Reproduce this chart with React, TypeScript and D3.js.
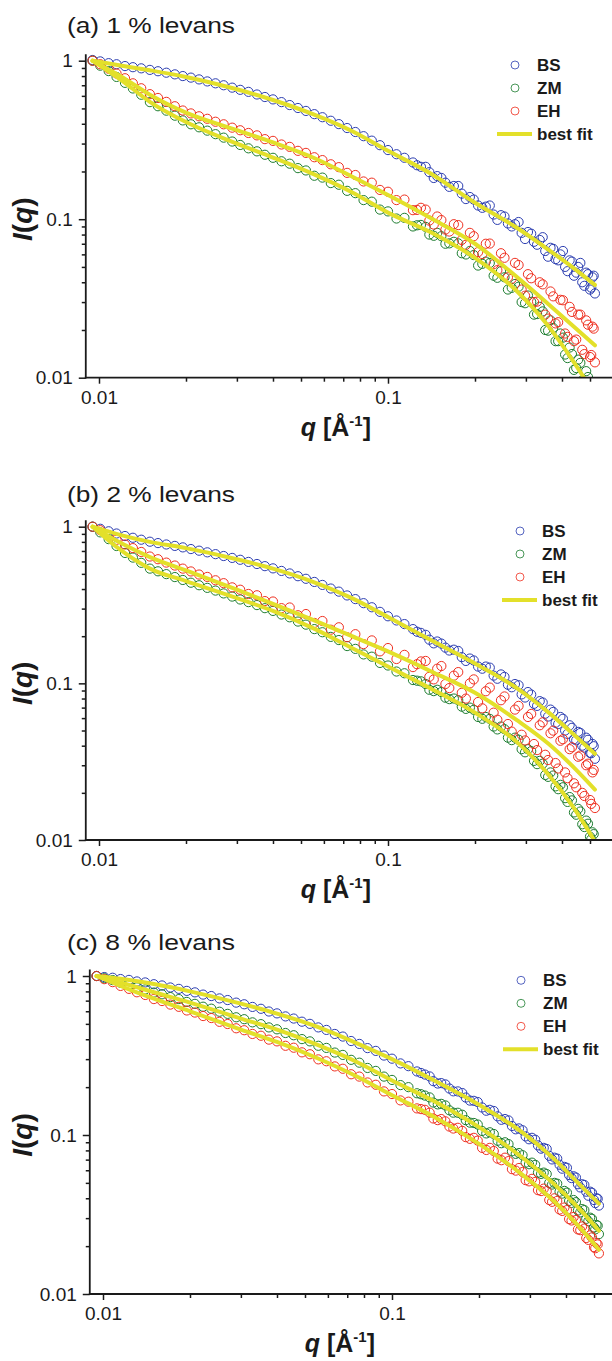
import React, { useEffect, useRef } from 'react';
import * as d3 from 'd3';

// q grid shared by all measured curves (Å^-1)
const Q = [
  0.0095, 0.0101, 0.0108, 0.0115, 0.0123, 0.0131, 0.014, 0.015, 0.016, 0.0171,
  0.0183, 0.0195, 0.0208, 0.0222, 0.0237, 0.0253, 0.027, 0.0289, 0.0308, 0.0329,
  0.0352, 0.0375, 0.04, 0.0428, 0.0457, 0.0488, 0.052, 0.0556, 0.0593, 0.0634,
  0.0676, 0.0722, 0.0771, 0.0823, 0.0879, 0.0938, 0.1, 0.107, 0.114, 0.122,
  0.13, 0.139, 0.148, 0.158, 0.169, 0.18, 0.192, 0.205, 0.218, 0.232,
  0.246, 0.26, 0.275, 0.29, 0.305, 0.32, 0.335, 0.35, 0.365, 0.38,
  0.395, 0.41, 0.425, 0.44, 0.455, 0.47, 0.485, 0.5, 0.51, 0.52,
];
// extra points of the dense high-q part
const Q_HI = [
  0.126, 0.135, 0.144, 0.153, 0.163, 0.175, 0.186, 0.198, 0.212, 0.225,
  0.239, 0.253, 0.268, 0.283, 0.298, 0.313, 0.328, 0.343, 0.358, 0.373,
  0.388, 0.403, 0.418, 0.433, 0.448, 0.463, 0.478, 0.492, 0.505, 0.515,
];
// q grid of the fitted curves
const Q_FIT = [0.0095, 0.012, 0.015, 0.02, 0.03, 0.04, 0.055, 0.075, 0.1, 0.14, 0.2, 0.28, 0.36, 0.44, 0.52];

// (a) 1 % levans
const A_BS = [
  1.01, 0.99, 0.965, 0.95, 0.925, 0.91, 0.895, 0.875, 0.858, 0.84,
  0.82, 0.8, 0.782, 0.762, 0.74, 0.72, 0.7, 0.676, 0.655, 0.636,
  0.612, 0.59, 0.57, 0.548, 0.525, 0.503, 0.482, 0.46, 0.44, 0.418,
  0.398, 0.376, 0.355, 0.334, 0.313, 0.293, 0.273, 0.257, 0.244, 0.228,
  0.214, 0.198, 0.187, 0.17, 0.162, 0.145, 0.138, 0.122, 0.12, 0.107,
  0.106, 0.094, 0.093, 0.082, 0.083, 0.072, 0.074, 0.063, 0.066, 0.056,
  0.06, 0.05, 0.055, 0.044, 0.05, 0.04, 0.046, 0.036, 0.043, 0.034,
];
const A_ZM = [
  1.0, 0.93, 0.86, 0.79, 0.725, 0.668, 0.61, 0.548, 0.516, 0.484,
  0.45, 0.42, 0.397, 0.38, 0.362, 0.344, 0.327, 0.309, 0.294, 0.28,
  0.268, 0.255, 0.244, 0.232, 0.224, 0.21, 0.203, 0.188, 0.183, 0.169,
  0.165, 0.151, 0.146, 0.132, 0.129, 0.115, 0.112, 0.101, 0.102, 0.09,
  0.092, 0.08, 0.082, 0.07, 0.072, 0.061, 0.063, 0.051, 0.054, 0.044,
  0.047, 0.036, 0.039, 0.03, 0.033, 0.025, 0.028, 0.02, 0.023, 0.017,
  0.019, 0.014, 0.0155, 0.0112, 0.013, 0.0096, 0.011, 0.0082, 0.0094, 0.0072,
];
const A_EH = [
  1.0, 0.95, 0.89, 0.83, 0.775, 0.72, 0.67, 0.615, 0.582, 0.55,
  0.516, 0.485, 0.465, 0.446, 0.43, 0.412, 0.397, 0.378, 0.364, 0.35,
  0.338, 0.32, 0.312, 0.296, 0.286, 0.27, 0.262, 0.246, 0.236, 0.222,
  0.213, 0.196, 0.19, 0.173, 0.17, 0.153, 0.149, 0.132, 0.133, 0.114,
  0.118, 0.098, 0.104, 0.086, 0.093, 0.074, 0.082, 0.062, 0.07, 0.052,
  0.061, 0.043, 0.053, 0.036, 0.045, 0.03, 0.04, 0.025, 0.035, 0.022,
  0.031, 0.019, 0.028, 0.017, 0.025, 0.015, 0.023, 0.0135, 0.021, 0.0125,
];
const A_BS_HI = [
  0.219, 0.214, 0.182, 0.182, 0.16, 0.162, 0.134, 0.133, 0.118, 0.122,
  0.099, 0.104, 0.09, 0.096, 0.075, 0.081, 0.069, 0.077, 0.058, 0.065,
  0.055, 0.063, 0.047, 0.054, 0.046, 0.053, 0.038, 0.045, 0.037, 0.044,
];
const A_ZM_HI = [
  0.0915, 0.0894, 0.0786, 0.0781, 0.0704, 0.0704, 0.0599, 0.0594, 0.0523, 0.0529,
  0.0427, 0.043, 0.0369, 0.0375, 0.0295, 0.0301, 0.0252, 0.0262, 0.0198, 0.0206,
  0.017, 0.0179, 0.0133, 0.0141, 0.0115, 0.0124, 0.0092, 0.0101, 0.0081, 0.0088,
];
const A_EH_HI = [
  0.1145, 0.115, 0.0925, 0.0987, 0.0836, 0.0918, 0.0689, 0.0781, 0.0603, 0.0702,
  0.0477, 0.0571, 0.0421, 0.0514, 0.0329, 0.0424, 0.0302, 0.0388, 0.0236, 0.0326,
  0.0224, 0.0308, 0.0181, 0.026, 0.0174, 0.025, 0.0141, 0.0216, 0.0139, 0.0204,
];
const A_BS_FIT = [1.0, 0.93, 0.87, 0.79, 0.66, 0.565, 0.46, 0.36, 0.27, 0.195, 0.127, 0.088, 0.064, 0.049, 0.0385];
const A_ZM_FIT = [1.0, 0.75, 0.55, 0.41, 0.3, 0.245, 0.193, 0.148, 0.11, 0.083, 0.057, 0.035, 0.021, 0.0125, 0.0078];
const A_EH_FIT = [1.0, 0.79, 0.61, 0.47, 0.365, 0.305, 0.245, 0.186, 0.142, 0.102, 0.07, 0.043, 0.029, 0.021, 0.016];

// (b) 2 % levans
const B_BS = [
  1.0, 0.97, 0.935, 0.905, 0.872, 0.85, 0.826, 0.802, 0.786, 0.77,
  0.754, 0.738, 0.72, 0.703, 0.686, 0.668, 0.65, 0.632, 0.615, 0.596,
  0.578, 0.56, 0.542, 0.522, 0.503, 0.483, 0.465, 0.444, 0.425, 0.403,
  0.385, 0.364, 0.345, 0.325, 0.306, 0.286, 0.268, 0.252, 0.239, 0.222,
  0.21, 0.19, 0.185, 0.169, 0.164, 0.147, 0.144, 0.128, 0.128, 0.112,
  0.114, 0.098, 0.099, 0.085, 0.088, 0.074, 0.077, 0.064, 0.068, 0.056,
  0.061, 0.05, 0.054, 0.044, 0.049, 0.04, 0.045, 0.036, 0.041, 0.033,
];
const B_ZM = [
  1.0, 0.92, 0.833, 0.753, 0.68, 0.635, 0.588, 0.54, 0.519, 0.498,
  0.477, 0.457, 0.439, 0.423, 0.407, 0.391, 0.375, 0.358, 0.343, 0.33,
  0.316, 0.302, 0.29, 0.275, 0.264, 0.248, 0.237, 0.222, 0.212, 0.198,
  0.189, 0.173, 0.166, 0.153, 0.148, 0.135, 0.13, 0.119, 0.116, 0.105,
  0.103, 0.091, 0.091, 0.081, 0.08, 0.071, 0.07, 0.061, 0.061, 0.053,
  0.053, 0.045, 0.045, 0.038, 0.038, 0.032, 0.032, 0.026, 0.027, 0.022,
  0.0225, 0.0185, 0.0188, 0.015, 0.0158, 0.0126, 0.0133, 0.0105, 0.0112, 0.0092,
];
const B_EH = [
  1.0, 0.95, 0.885, 0.825, 0.77, 0.73, 0.69, 0.645, 0.62, 0.59,
  0.565, 0.54, 0.518, 0.495, 0.478, 0.455, 0.436, 0.41, 0.396, 0.372,
  0.365, 0.335, 0.333, 0.302, 0.305, 0.272, 0.277, 0.243, 0.25, 0.22,
  0.228, 0.197, 0.206, 0.178, 0.188, 0.16, 0.168, 0.143, 0.152, 0.127,
  0.138, 0.11, 0.124, 0.099, 0.112, 0.087, 0.1, 0.076, 0.089, 0.065,
  0.078, 0.055, 0.068, 0.047, 0.061, 0.041, 0.054, 0.035, 0.048, 0.031,
  0.043, 0.027, 0.038, 0.023, 0.034, 0.02, 0.03, 0.018, 0.027, 0.016,
];
const B_BS_HI = [
  0.2135, 0.204, 0.18, 0.1795, 0.162, 0.161, 0.139, 0.14, 0.124, 0.126,
  0.107, 0.11, 0.0944, 0.0973, 0.0812, 0.0848, 0.0718, 0.0755, 0.0614, 0.0657,
  0.055, 0.0594, 0.0476, 0.052, 0.0433, 0.0482, 0.0389, 0.0436, 0.0358, 0.0397,
];
const B_ZM_HI = [
  0.104, 0.099, 0.0892, 0.088, 0.0793, 0.0781, 0.0687, 0.0678, 0.0594, 0.0593,
  0.0508, 0.051, 0.0434, 0.0437, 0.0363, 0.0369, 0.0305, 0.0307, 0.0253, 0.0258,
  0.0211, 0.0217, 0.0175, 0.0179, 0.0145, 0.0152, 0.0121, 0.0127, 0.0101, 0.0109,
];
const B_EH_HI = [
  0.1325, 0.139, 0.106, 0.129, 0.0933, 0.118, 0.0799, 0.106, 0.0693, 0.094,
  0.0586, 0.0825, 0.0492, 0.0718, 0.0432, 0.0638, 0.0375, 0.0564, 0.0324, 0.0499,
  0.0286, 0.044, 0.0248, 0.0391, 0.0217, 0.0346, 0.0191, 0.0307, 0.017, 0.028,
];
const B_BS_FIT = [1.0, 0.88, 0.8, 0.73, 0.62, 0.54, 0.445, 0.35, 0.265, 0.19, 0.134, 0.093, 0.065, 0.047, 0.0355];
const B_ZM_FIT = [1.0, 0.7, 0.54, 0.45, 0.35, 0.29, 0.225, 0.168, 0.128, 0.093, 0.065, 0.042, 0.026, 0.016, 0.0098];
const B_EH_FIT = [1.0, 0.78, 0.64, 0.526, 0.396, 0.322, 0.254, 0.2, 0.16, 0.12, 0.087, 0.058, 0.041, 0.029, 0.021];

// (c) 8 % levans
const C_BS = [
  1.0, 0.985, 0.975, 0.957, 0.945, 0.924, 0.911, 0.888, 0.872, 0.847,
  0.83, 0.806, 0.789, 0.764, 0.748, 0.723, 0.706, 0.68, 0.664, 0.639,
  0.622, 0.598, 0.582, 0.557, 0.54, 0.516, 0.5, 0.475, 0.458, 0.432,
  0.416, 0.39, 0.374, 0.352, 0.338, 0.316, 0.302, 0.282, 0.271, 0.251,
  0.24, 0.218, 0.212, 0.196, 0.188, 0.172, 0.164, 0.149, 0.144, 0.131,
  0.126, 0.114, 0.11, 0.098, 0.096, 0.086, 0.083, 0.074, 0.072, 0.065,
  0.063, 0.056, 0.055, 0.049, 0.049, 0.044, 0.044, 0.039, 0.04, 0.036,
];
const C_ZM = [
  1.0, 0.968, 0.942, 0.907, 0.881, 0.848, 0.823, 0.787, 0.767, 0.737,
  0.716, 0.687, 0.668, 0.641, 0.623, 0.596, 0.578, 0.55, 0.535, 0.511,
  0.498, 0.475, 0.462, 0.438, 0.424, 0.401, 0.388, 0.364, 0.353, 0.33,
  0.319, 0.297, 0.285, 0.264, 0.253, 0.233, 0.222, 0.206, 0.2, 0.183,
  0.177, 0.16, 0.157, 0.143, 0.138, 0.124, 0.119, 0.106, 0.104, 0.092,
  0.09, 0.079, 0.077, 0.067, 0.067, 0.058, 0.058, 0.05, 0.05, 0.044,
  0.0445, 0.0385, 0.039, 0.0335, 0.0342, 0.0297, 0.0302, 0.0262, 0.0272, 0.0238,
];
const C_EH = [
  1.0, 0.955, 0.915, 0.866, 0.83, 0.79, 0.76, 0.716, 0.696, 0.661,
  0.64, 0.607, 0.589, 0.56, 0.544, 0.515, 0.499, 0.469, 0.456, 0.432,
  0.421, 0.398, 0.388, 0.364, 0.354, 0.331, 0.322, 0.299, 0.291, 0.27,
  0.261, 0.241, 0.233, 0.214, 0.207, 0.188, 0.181, 0.165, 0.162, 0.147,
  0.144, 0.127, 0.126, 0.113, 0.111, 0.097, 0.096, 0.083, 0.083, 0.071,
  0.072, 0.061, 0.062, 0.052, 0.053, 0.045, 0.046, 0.039, 0.04, 0.034,
  0.035, 0.0296, 0.0305, 0.0255, 0.0266, 0.0225, 0.0234, 0.0197, 0.0209, 0.018,
];
const C_BS_HI = [
  0.2455, 0.2336, 0.2107, 0.2081, 0.1882, 0.1836, 0.1646, 0.1612, 0.1421, 0.1416,
  0.1246, 0.1236, 0.1086, 0.1071, 0.094, 0.0934, 0.082, 0.0817, 0.0702, 0.071,
  0.0614, 0.0622, 0.0536, 0.054, 0.0468, 0.0485, 0.0415, 0.0433, 0.0373, 0.0397,
];
const C_ZM_HI = [
  0.1805, 0.1724, 0.1558, 0.1535, 0.1382, 0.1341, 0.1196, 0.1164, 0.1023, 0.1015,
  0.0888, 0.0876, 0.0761, 0.0746, 0.0655, 0.0649, 0.0569, 0.0568, 0.0488, 0.0494,
  0.0428, 0.0434, 0.0374, 0.0378, 0.0326, 0.0337, 0.0287, 0.0297, 0.0255, 0.0269,
];
const C_EH_HI = [
  0.1455, 0.1382, 0.124, 0.1219, 0.1098, 0.1061, 0.0946, 0.0922, 0.0805, 0.0793,
  0.0694, 0.0685, 0.0597, 0.0585, 0.0511, 0.0507, 0.0444, 0.0443, 0.038, 0.0385,
  0.0333, 0.0337, 0.029, 0.0292, 0.0252, 0.0258, 0.0219, 0.0227, 0.0194, 0.0205,
];
const C_BS_FIT = [1.0, 0.95, 0.89, 0.8, 0.67, 0.58, 0.48, 0.38, 0.3, 0.22, 0.155, 0.105, 0.072, 0.05, 0.037];
const C_ZM_FIT = [1.0, 0.89, 0.79, 0.68, 0.54, 0.46, 0.37, 0.29, 0.22, 0.163, 0.112, 0.073, 0.05, 0.035, 0.025];
const C_EH_FIT = [1.0, 0.84, 0.72, 0.6, 0.46, 0.385, 0.305, 0.235, 0.178, 0.13, 0.088, 0.057, 0.039, 0.027, 0.019];

const SERIES_NAMES = ['BS', 'ZM', 'EH'];
const FIT_NAME = 'best fit';
const PANEL_TITLES = ['(a) 1 % levans', '(b) 2 % levans', '(c) 8 % levans'];
const Y_TICKS = [0.01, 0.1, 1];
const Y_MINOR = [0.02, 0.03, 0.04, 0.05, 0.06, 0.07, 0.08, 0.09, 0.2, 0.3, 0.4, 0.5, 0.6, 0.7, 0.8, 0.9];
const X_TICKS = [0.01, 0.1];
const X_MINOR = [0.02, 0.03, 0.04, 0.05, 0.06, 0.07, 0.08, 0.09, 0.2, 0.3, 0.4, 0.5];

const PANELS = [
  {
    title: PANEL_TITLES[0],
    series: [A_BS, A_ZM, A_EH],
    dense: [A_BS_HI, A_ZM_HI, A_EH_HI],
    fits: [A_BS_FIT, A_ZM_FIT, A_EH_FIT],
  },
  {
    title: PANEL_TITLES[1],
    series: [B_BS, B_ZM, B_EH],
    dense: [B_BS_HI, B_ZM_HI, B_EH_HI],
    fits: [B_BS_FIT, B_ZM_FIT, B_EH_FIT],
  },
  {
    title: PANEL_TITLES[2],
    series: [C_BS, C_ZM, C_EH],
    dense: [C_BS_HI, C_ZM_HI, C_EH_HI],
    fits: [C_BS_FIT, C_ZM_FIT, C_EH_FIT],
  },
];

// page layout of each panel (pixels)
const LAYOUT = [
  { x0: 99, yOne: 60.7, yLow: 377.7, titleY: 33, legendX: 515 },
  { x0: 99, yOne: 526.7, yLow: 840, titleY: 502, legendX: 520 },
  { x0: 103, yOne: 976, yLow: 1294, titleY: 950, legendX: 521 },
];

const W = 612;
const H = 1361;
const DECADE_X = 289;
const COLORS = ['#2b3db0', '#1c7c2f', '#ef3020'];
const FIT_COLOR = '#e3e02a';
const INK = '#1a1a1a';
const FONT = '"Liberation Sans", Arial, Helvetica, sans-serif';

const App = () => {
  const svgRef = useRef<SVGSVGElement>(null);

  useEffect(() => {
    const svg = d3.select(svgRef.current);
    svg.selectAll('*').remove();

    PANELS.forEach((panel, i) => {
      const L = LAYOUT[i];
      const x = d3.scaleLog().domain([0.01, 0.1]).range([L.x0, L.x0 + DECADE_X]);
      const y = d3.scaleLog().domain([0.01, 1]).range([L.yLow, L.yOne]);
      const left = x(0.009);
      const top = y(1.1);
      const bottom = L.yLow;

      const g = svg.append('g');

      const clipId = `plot-clip-${i}`;
      g.append('clipPath')
        .attr('id', clipId)
        .append('rect')
        .attr('x', left)
        .attr('y', top - 12)
        .attr('width', W - left)
        .attr('height', bottom - top + 12);

      const plot = g.append('g').attr('clip-path', `url(#${clipId})`);

      // measured points
      panel.series.forEach((vals, s) => {
        const sg = plot.append('g')
          .attr('fill', 'none')
          .attr('stroke', COLORS[s])
          .attr('stroke-width', 1);
        sg.selectAll('circle.main')
          .data(vals)
          .enter().append('circle')
          .attr('class', 'main')
          .attr('cx', (d, k) => x(Q[k]))
          .attr('cy', d => y(d))
          .attr('r', 4.6);
        sg.selectAll('circle.hi')
          .data(panel.dense[s])
          .enter().append('circle')
          .attr('class', 'hi')
          .attr('cx', (d, k) => x(Q_HI[k]))
          .attr('cy', d => y(d))
          .attr('r', 4.6);
      });

      // best fits
      const fitLine = d3.line<number>()
        .x((d, k) => x(Q_FIT[k]))
        .y(d => y(d))
        .curve(d3.curveMonotoneX);
      panel.fits.forEach(vals => {
        plot.append('path')
          .datum(vals)
          .attr('d', fitLine)
          .attr('fill', 'none')
          .attr('stroke', FIT_COLOR)
          .attr('stroke-width', 4)
          .attr('stroke-linecap', 'round');
      });

      // axes
      const yMinor = g.append('g').attr('transform', `translate(${left},0)`)
        .call(d3.axisLeft(y).tickValues(Y_MINOR).tickSize(4).tickFormat(() => ''));
      const yMajor = g.append('g').attr('transform', `translate(${left},0)`)
        .call(d3.axisLeft(y).tickValues(Y_TICKS).tickSize(7).tickPadding(6).tickFormat(d => String(d)));
      const xMinor = g.append('g').attr('transform', `translate(0,${bottom})`)
        .call(d3.axisBottom(x).tickValues(X_MINOR).tickSize(4).tickFormat(() => ''));
      const xMajor = g.append('g').attr('transform', `translate(0,${bottom})`)
        .call(d3.axisBottom(x).tickValues(X_TICKS).tickSize(6).tickPadding(7).tickFormat(d => String(d)));

      [yMinor, yMajor, xMinor, xMajor].forEach(ax => {
        ax.select('.domain').remove();
        ax.attr('color', INK).attr('font-size', 19).attr('font-family', FONT);
        ax.selectAll('line').attr('stroke-width', 1.5);
      });

      g.append('line')
        .attr('x1', left).attr('x2', left)
        .attr('y1', top).attr('y2', bottom + 0.75)
        .attr('stroke', INK).attr('stroke-width', 1.8);
      g.append('line')
        .attr('x1', left - 0.9).attr('x2', W)
        .attr('y1', bottom).attr('y2', bottom)
        .attr('stroke', INK).attr('stroke-width', 1.8);

      // title
      g.append('text')
        .attr('x', 67)
        .attr('y', L.titleY)
        .attr('font-family', FONT)
        .attr('font-size', 22)
        .attr('textLength', 168)
        .attr('lengthAdjust', 'spacingAndGlyphs')
        .attr('fill', INK)
        .text(panel.title);

      // y label
      const yl = g.append('text')
        .attr('transform', `translate(32,${y(0.1)}) rotate(-90)`)
        .attr('text-anchor', 'middle')
        .attr('font-family', FONT)
        .attr('font-size', 28)
        .attr('font-weight', 'bold')
        .attr('fill', INK);
      yl.append('tspan').attr('font-style', 'italic').text('I');
      yl.append('tspan').text('(');
      yl.append('tspan').attr('font-style', 'italic').text('q');
      yl.append('tspan').text(')');

      // x label
      const xl = g.append('text')
        .attr('x', x(0.066))
        .attr('y', bottom + 58)
        .attr('text-anchor', 'middle')
        .attr('font-family', FONT)
        .attr('font-size', 25)
        .attr('font-weight', 'bold')
        .attr('fill', INK);
      xl.append('tspan').attr('font-style', 'italic').text('q');
      xl.append('tspan').text(' [Å');
      xl.append('tspan').attr('font-size', 15).attr('dy', -10).text('-1');
      xl.append('tspan').attr('dy', 10).text(']');

      // legend
      const lg = g.append('g').attr('font-family', FONT).attr('font-weight', 'bold').attr('font-size', 17).attr('fill', INK);
      SERIES_NAMES.forEach((name, s) => {
        const ly = L.yOne + 4.3 + 23 * s;
        lg.append('circle')
          .attr('cx', L.legendX).attr('cy', ly).attr('r', 4)
          .attr('fill', 'none').attr('stroke', COLORS[s]).attr('stroke-width', 0.8);
        lg.append('text').attr('x', L.legendX + 22).attr('y', ly).attr('dy', '0.36em').text(name);
      });
      const fy = L.yOne + 4.3 + 23 * 3;
      lg.append('line')
        .attr('x1', L.legendX - 18).attr('x2', L.legendX + 17)
        .attr('y1', fy).attr('y2', fy)
        .attr('stroke', FIT_COLOR).attr('stroke-width', 4);
      lg.append('text').attr('x', L.legendX + 22).attr('y', fy).attr('dy', '0.36em').text(FIT_NAME);
    });
  }, []);

  return (
    <svg
      ref={svgRef}
      width={W}
      height={H}
      style={{ position: 'absolute', left: 0, top: 0, background: '#fff' }}
    />
  );
};

export default App;
